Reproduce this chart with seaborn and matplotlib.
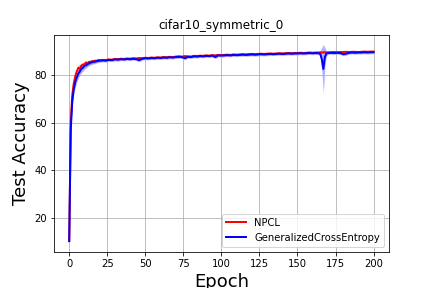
import numpy as np
import pandas as pd
import matplotlib
matplotlib.use('Agg')
import matplotlib.pyplot as plt
import seaborn as sns

epochs = (list(range(0, 21)) + list(range(22, 164, 2))
          + [164, 165, 166, 167, 168, 169, 170] + list(range(172, 201, 2)))

npcl_mean = [10.3, 60.0, 71.5, 76.5, 79.5, 81.5, 83.0, 82.5, 84.0, 84.2, 84.5,
             85.2, 84.8, 85.5, 85.3, 85.8, 85.6, 86.0, 85.9, 86.2, 86.1,
             86.3, 86.2, 86.5, 86.4, 86.7, 86.6, 86.8, 86.7, 86.9, 86.8,
             87.0, 86.9, 87.1, 87.0, 87.2, 87.1, 87.3, 87.2, 87.4, 87.3,
             87.5, 87.4, 87.6, 87.5, 87.7, 87.8, 87.7, 87.9, 87.8, 87.7,
             88.0, 87.9, 88.1, 88.0, 88.2, 88.1, 88.3, 88.2, 88.4, 88.3,
             88.4, 88.5, 88.4, 88.6, 88.5, 88.6, 88.7, 88.6, 88.7, 88.8,
             88.7, 88.8, 88.9, 88.8, 88.9, 89.0, 88.9, 89.0, 89.1, 89.0,
             89.1, 89.2, 89.1, 89.2, 89.2, 89.3, 89.2, 89.3, 89.4, 89.3,
             89.4,
             89.4, 89.5, 89.4, 89.5, 89.5, 89.4, 89.5,
             89.5, 89.6, 89.5, 89.6, 89.6, 89.7, 89.6, 89.7, 89.7, 89.6,
             89.7, 89.8, 89.7, 89.8, 89.8]
npcl_std = [0.3, 1.5, 1.6, 1.6, 1.5, 1.5, 1.5, 1.6, 1.2, 1.0, 1.0,
            0.9, 0.9, 0.8, 0.8, 0.7, 0.7, 0.6, 0.6, 0.6, 0.5] + [0.4] * 71 \
           + [0.3] * 7 + [0.3] * 15

gce_mean = [10.2, 57.0, 69.0, 74.0, 77.0, 79.0, 80.5, 81.5, 82.5, 83.0, 83.8,
            84.0, 84.5, 84.8, 85.2, 85.3, 85.6, 85.5, 85.8, 85.9, 86.0,
            86.1, 86.0, 86.3, 86.2, 86.5, 86.4, 86.6, 86.5, 86.7, 86.6,
            86.8, 86.6, 86.2, 86.8, 87.0, 86.9, 87.1, 87.0, 87.2, 87.1,
            87.3, 87.2, 87.4, 87.3, 87.5, 87.6, 87.5, 87.0, 87.6, 87.5,
            87.8, 87.7, 87.9, 87.8, 88.0, 87.9, 88.1, 87.5, 88.2, 88.1,
            88.2, 88.3, 88.2, 88.4, 88.3, 88.4, 88.5, 88.4, 88.5, 88.6,
            88.5, 88.6, 88.7, 88.6, 88.7, 88.8, 88.7, 88.8, 88.9, 88.8,
            88.9, 89.0, 88.9, 89.0, 89.0, 89.1, 89.0, 89.1, 89.2, 89.1,
            89.2,
            89.1, 88.8, 86.5, 82.5, 87.5, 89.0, 89.2,
            89.3, 89.2, 89.3, 89.2, 88.7, 88.9, 89.3, 89.4, 89.3, 89.4,
            89.4, 89.5, 89.4, 89.5, 89.5]
gce_std = [0.3, 1.8, 2.0, 2.0, 2.0, 1.8, 1.8, 1.6, 1.5, 1.4, 1.3,
           1.2, 1.1, 1.0, 1.0, 0.9, 0.9, 0.8, 0.8, 0.8, 0.7] + [0.6] * 71 \
          + [0.6, 1.5, 5.0, 10.3, 4.0, 1.0, 0.6] + [0.6] * 15

models = ['NPCL', 'GeneralizedCrossEntropy']
colors = ['red', 'blue']

df = pd.concat([
    pd.DataFrame({'epoch': epochs, 'acc': npcl_mean, 'std': npcl_std, 'model': 'NPCL'}),
    pd.DataFrame({'epoch': epochs, 'acc': gce_mean, 'std': gce_std,
                  'model': 'GeneralizedCrossEntropy'}),
])

fig, ax = plt.subplots(figsize=(6, 4), dpi=72)
sns.lineplot(data=df, x='epoch', y='acc', hue='model', hue_order=models,
             palette=colors, linewidth=2, ax=ax)
for m, c in zip(models, colors):
    d = df[df['model'] == m]
    ax.fill_between(d['epoch'], d['acc'] - d['std'], d['acc'] + d['std'],
                    color=c, alpha=0.3, linewidth=0)

ax.grid(True)
ax.set_title('cifar10_symmetric_0')
ax.set_xlabel('Epoch', fontsize=18)
ax.set_ylabel('Test Accuracy', fontsize=18)
ax.legend(loc='lower right')
fig.subplots_adjust(bottom=0.126)
fig.savefig('out.png', dpi=72)
